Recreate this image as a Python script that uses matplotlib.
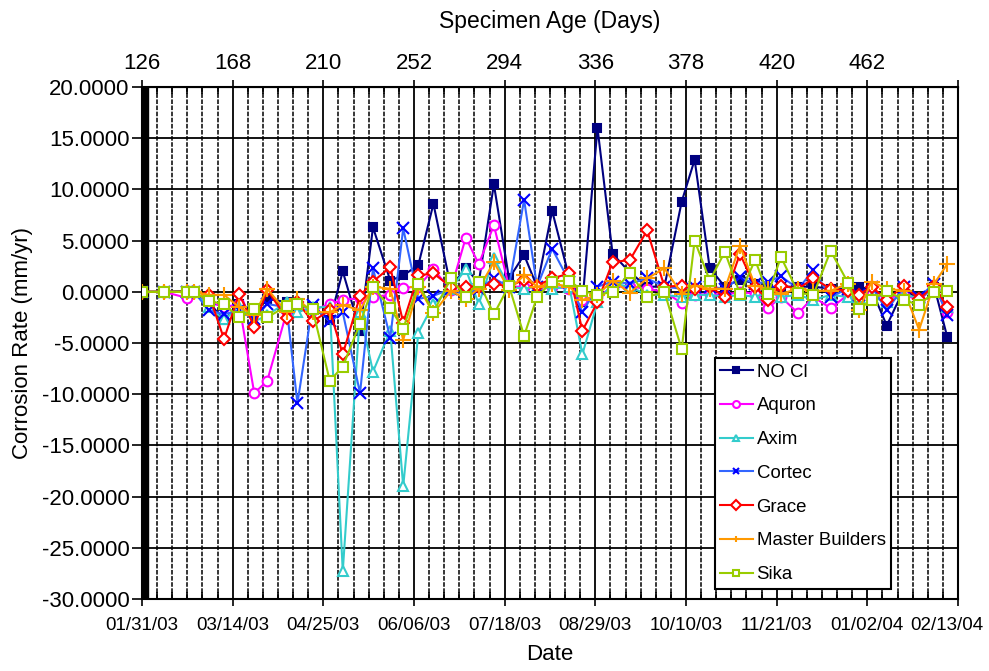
import matplotlib.pyplot as plt
import numpy as np

plt.rcParams['font.family'] = ['Liberation Sans', 'DejaVu Sans']

# days since 01/31/03 for each reading
days = [0, 10, 21, 24, 31, 38, 45, 52, 58, 67, 72, 79, 87, 93, 101, 107, 115, 121,
        128, 135, 143, 150, 156, 163, 170, 177, 183, 190, 198, 204, 211, 218, 226, 234,
        242, 250, 256, 263, 270, 277, 284, 290, 296, 304, 311, 319, 327, 332, 338, 345,
        353, 360, 367, 373]

no_cl = [0, 0, 0.1, 0, -1.0, -2.8, -1.2, -1.8, -0.7, -1.0, -1.5, -1.5, -2.8, 2.0, -3.8, 6.3,
         1.1, 1.6, 2.6, 8.6, 0.5, 2.3, 0.9, 10.5, 1.3, 3.6, 0.5, 7.9, 1.3, -1.0, 16.0, 3.7,
         1.9, 0.5, 0.5, 8.8, 12.9, 2.3, 0.5, 1.2, 0.8, 0.3, 0.5, 0.5, 0.5, 0.3, 0.3, 0.5,
         0.2, -3.3, 0.3, -0.8, 0.5, -4.4]
aquron = [0, 0, -0.6, 0, -1.0, -1.5, -1.2, -9.9, -8.7, -2.0, -1.2, -1.8, -1.2, -0.8, -0.6,
          -0.5, -0.3, 0.4, 0.5, 2.2, 0.2, 5.3, 2.7, 6.5, 0.5, 0.5, 0.5, 0.5, 0.3, -0.8, -0.5,
          0.5, 0.5, 0.3, 0.0, -1.1, -0.3, -0.2, -0.3, 0.0, -0.2, -1.6, -0.5, -2.1, -0.5,
          -1.6, -0.3, -0.5, -0.2, -0.6, -0.3, -0.8, 0.5, -2.0]
axim = [0, 0, 0, 0, -1.5, -2.7, -1.5, -2.9, -2.3, -1.0, -2.0, -1.5, -1.5, -27.3, -2.0, -7.8,
        -3.8, -19.0, -4.0, -1.2, 0.3, 2.2, -1.2, 3.3, 0.5, 0.3, 0.5, 0.3, 0.5, -6.1, -1.0,
        0.8, 0.5, -0.3, -0.3, -0.5, -0.3, -0.3, -0.5, -0.3, -0.5, 0.0, -0.5, -0.3, -0.8,
        -0.3, -0.5, -0.5, -0.5, -1.0, -0.3, -0.6, 0.3, -1.5]
cortec = [0, 0, 0, 0, -1.8, -2.2, -1.8, -2.7, -1.2, -1.5, -10.9, -1.3, -2.9, -2.0, -9.9, 2.3,
          -4.5, 6.2, -0.7, -0.4, 0.3, -0.3, 0.3, 1.3, 0.5, 9.0, 0.5, 4.2, 1.0, -2.0, 0.5, 1.0,
          0.8, 1.3, 0.5, 0.3, 0.5, 0.5, 0.3, 1.4, 0.8, 1.0, 1.5, 0.3, 2.1, -0.5, 0.3, -0.3,
          0.5, -1.8, 0.5, -0.5, 0.8, -2.3]
grace = [0, 0, 0, 0, -0.3, -4.6, -0.2, -3.4, 0.2, -2.6, -1.0, -2.9, -1.8, -6.1, -0.4, 1.0,
         2.4, -3.0, 1.6, 1.8, 0.5, 0.5, 0.5, 0.8, 0.5, 1.2, 0.6, 1.3, 1.8, -3.8, -1.0, 2.9,
         3.1, 6.0, 0.5, 0.6, 0.3, 0.5, -0.5, 3.7, 0.5, -0.8, 0.6, 0.3, 1.3, 0.3, 0.1, -0.3,
         0.5, -0.8, 0.6, -0.7, 0.6, -1.5]
master = [0, 0, 0, 0, -0.3, -0.3, -1.5, -2.3, 0.3, -2.0, -0.7, -2.0, -2.0, -1.3, -1.8, 0.5,
          0.3, -4.7, 0.5, -2.1, 0.1, -0.7, 0.3, 2.9, 0.2, 1.6, 0.5, 0.8, 0.5, -0.8, -0.3, 1.1,
          -0.1, 1.3, 2.3, -0.2, 0.6, 0.3, 0.3, 4.5, 0.6, 0.3, -0.2, 0.3, 0.1, 0.1, 0.8, -1.8,
          1.0, 0.3, 0.1, -3.7, 0.8, 2.7]
sika = [0, 0, 0, 0, -0.9, -1.2, -2.5, -1.7, -2.5, -1.4, -1.2, -1.7, -8.7, -7.3, -3.1, 0.5,
        -1.6, -3.6, 0.8, -2.0, 1.3, -0.5, 1.0, -2.2, 0.6, -4.3, -0.5, 1.0, 1.1, 0.1, -0.3,
        0.0, 1.8, -0.5, 0.0, -5.6, 5.0, 1.1, 3.9, -0.2, 3.1, -0.2, 3.4, -0.1, -0.3, 4.0, 0.9,
        -1.7, -0.8, 0.1, -0.8, -1.3, 0.0, 0.1]

date_labels = ['01/31/03', '03/14/03', '04/25/03', '06/06/03', '07/18/03', '08/29/03',
               '10/10/03', '11/21/03', '01/02/04', '02/13/04']
age_labels = ['126', '168', '210', '252', '294', '336', '378', '420', '462', '']

fig = plt.figure(figsize=(9.89, 6.71), dpi=100)
ax = fig.add_axes([142 / 989, 1 - 599 / 671, 816 / 989, 512 / 671])

# series: label, values, line colour, marker, marker colour, marker face, size
styles = [
    ('NO Cl', no_cl, '#000080', 's', '#000080', '#000080', 6),
    ('Aquron', aquron, '#FF00FF', 'o', '#FF00FF', 'white', 7),
    ('Axim', axim, '#33CCCC', '^', '#33CCCC', 'white', 7),
    ('Cortec', cortec, '#3366FF', 'x', '#0000FF', 'none', 8),
    ('Grace', grace, '#FF0000', 'D', '#FF0000', 'white', 6),
    ('Master Builders', master, '#FF9900', '+', '#FF9900', 'none', 11),
    ('Sika', sika, '#99CC00', 's', '#99CC00', 'white', 7),
]
for name, vals, col, mk, mcol, mface, ms in styles:
    ax.plot(days, vals, color=col, lw=1.5, marker=mk, markersize=ms,
            markeredgecolor=mcol, markerfacecolor=mface, markeredgewidth=1.5,
            label=name, zorder=3)

ax.set_xlim(0, 378)
ax.set_ylim(-30, 20)
ax.set_xticks(np.arange(0, 379, 42))
ax.set_xticks(np.arange(0, 379, 7), minor=True)
# the last date is drawn separately, nudged left so it stays inside the picture
ax.set_xticklabels(date_labels[:-1] + [''], fontsize=13.5)
ax.annotate(date_labels[-1], xy=(378, 0), xycoords=('data', 'axes fraction'),
            xytext=(-8, -13), textcoords='offset points', ha='center', va='top',
            fontsize=13.5)
ax.set_yticks(np.arange(-30, 21, 5))
ax.set_yticklabels(['%.4f' % v for v in np.arange(-30, 21, 5)], fontsize=16)

ax.grid(which='major', axis='both', color='black', lw=1.3, ls='-', zorder=1)
ax.grid(which='minor', axis='x', color='black', lw=1.1, ls=(0, (3, 1)), zorder=1)
ax.axvspan(0, 2.8, color='black', zorder=2)

ax.tick_params(axis='x', which='major', direction='out', length=5, width=1.2, pad=8)
ax.tick_params(axis='x', which='minor', direction='in', length=5, width=1.2)
ax.tick_params(axis='y', direction='out', length=7, width=1.2, pad=2)
for s in ax.spines.values():
    s.set_linewidth(1.5)

top = ax.secondary_xaxis('top', functions=(lambda d: d + 126, lambda a: a - 126))
top.set_xticks(np.arange(126, 505, 42))
top.set_xticks(np.arange(126, 505, 7), minor=True)
top.set_xticklabels(age_labels, fontsize=16)
top.tick_params(which='major', direction='out', length=5, width=1.2, pad=4)
top.tick_params(which='minor', direction='in', length=5, width=1.2)
top.set_xlabel('Specimen Age (Days)', fontsize=16.5, labelpad=18)

ax.set_xlabel('Date', fontsize=16, labelpad=7)
ax.set_ylabel('Corrosion Rate (mm/yr)', fontsize=16, labelpad=6)

leg = ax.legend(loc='lower right', bbox_to_anchor=(0.918, 0.02), fontsize=13.4,
                frameon=True, fancybox=False, framealpha=1, edgecolor='black',
                handlelength=1.75, labelspacing=0.9, borderpad=0.3, handletextpad=0.2,
                borderaxespad=0)
leg.get_frame().set_linewidth(1.5)
for h in leg.legend_handles:
    h.set_markersize(5)

fig.savefig('out.png', dpi=100)
